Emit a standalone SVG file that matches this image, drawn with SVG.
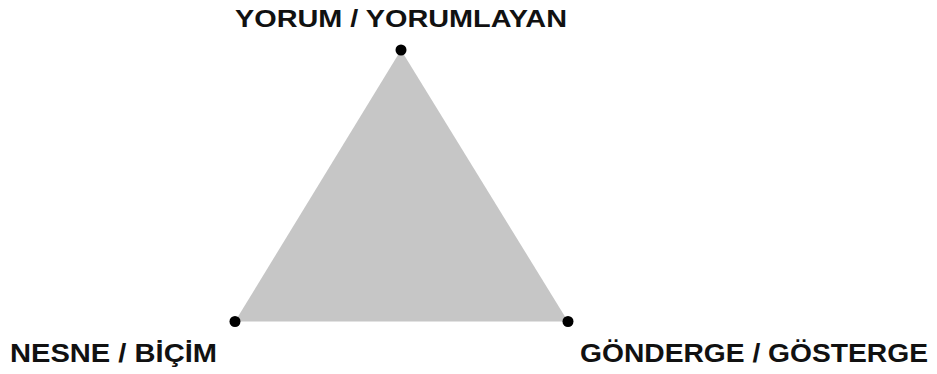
<svg xmlns="http://www.w3.org/2000/svg" width="937" height="374" viewBox="0 0 937 374">
<style>
.lbl{font-family:"Liberation Sans",Arial,sans-serif;font-weight:bold;fill:#111;}
.dot{fill:#000;}
</style>
<rect width="937" height="374" fill="#fff"/>
<g id="connectors">
<polygon points="401,50 235,321.5 568,321.5" fill="#c6c6c6"/>
</g>
<g id="node-top">
<circle class="dot" cx="401" cy="50" r="5.5"/>
<text class="lbl" x="235" y="27" font-size="24" textLength="332" lengthAdjust="spacingAndGlyphs">YORUM / YORUMLAYAN</text>
</g>
<g id="node-left">
<circle class="dot" cx="235" cy="321.5" r="5.5"/>
<text class="lbl" x="10" y="362" font-size="26" textLength="207" lengthAdjust="spacingAndGlyphs">NESNE / BİÇİM</text>
</g>
<g id="node-right">
<circle class="dot" cx="568" cy="321.5" r="5.5"/>
<text class="lbl" x="580" y="362" font-size="26" textLength="348" lengthAdjust="spacingAndGlyphs">GÖNDERGE / GÖSTERGE</text>
</g>
</svg>
